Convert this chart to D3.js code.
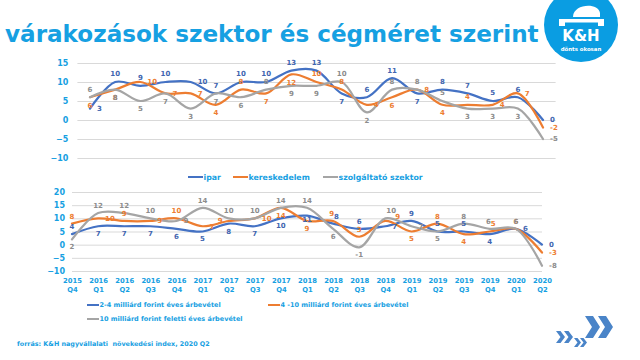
<!DOCTYPE html>
<html><head><meta charset="utf-8">
<script src="https://cdn.jsdelivr.net/npm/d3@7"></script>
<style>
body{margin:0;background:#fff;}
svg{display:block;}
text{font-family:"DejaVu Sans",Verdana,sans-serif;font-weight:bold;}
</style></head>
<body>
<svg id="c" width="640" height="360"></svg>
<script>
const categories = ["2015 Q4","2016 Q1","2016 Q2","2016 Q3","2016 Q4","2017 Q1","2017 Q2","2017 Q3","2017 Q4","2018 Q1","2018 Q2","2018 Q3","2018 Q4","2019 Q1","2019 Q2","2019 Q3","2019 Q4","2020 Q1","2020 Q2"];

// chart 1: by sector
const sectorNames = ["ipar","kereskedelem","szolgáltató szektor"];
const ipar = [3,10,9,10,10,7,10,10,13,13,7,6,11,7,8,7,5,6,0];
const kereskedelem = [6,8,10,7,7,4,8,7,12,10,8,4,6,8,4,4,4,7,-2];
const szolgaltato = [6,8,5,7,3,7,6,8,9,9,10,2,8,8,5,3,3,3,-5];
const yTicks1 = [-10,-5,0,5,10,15];

// chart 2: by company size
const sizeNames = ["2-4 milliárd forint éves árbevétel","4 -10 milliárd forint éves árbevétel","10 milliárd forint feletti éves árbevétel"];
const size2to4 = [4,7,7,7,6,5,8,7,10,11,8,6,7,9,5,5,4,6,0];
const size4to10 = [8,10,9,9,10,7,9,10,14,9,9,3,9,5,8,4,5,6,-3];
const size10plus = [2,12,12,10,9,14,10,10,14,14,6,-1,10,7,5,8,6,6,-8];
const yTicks2 = [-10,-5,0,5,10,15,20];

// label placement (a=above, b=below, c=slightly below, r=right, l=left, p=above-right, q=above-left, s=far right)
const place1 = ["raaaraaaaabaabaaaar","bbrrrbabbaarbrbarrr","abbbbbbabbabaaabbbr"];
const place2 = ["abbbbbbbbcparaaabrr","ararar" + "lrbbqasbabpar","baaaraaaaabbprbaqar"];

const colors = ["#4472C4","#ED7D31","#A5A5A5"];
const labelColors = ["#4165b0","#ED7D31","#8c8c8c"];
const textBlue = "#16a0e2";

const svg = d3.select("#c");

// Title (sized to span up to the logo)
const title = svg.append("text").attr("x",5).attr("y",42).attr("font-size",20).attr("fill",textBlue)
  .text("várakozások szektor és cégméret szerint");
const tw = title.node().getComputedTextLength();
title.attr("font-size", 20*534/tw);

// Logo
const logo = svg.append("g");
logo.append("circle").attr("cx",581).attr("cy",25).attr("r",37).attr("fill","#0a9de2");
logo.append("path").attr("d","M573,17 C573,4 598,2 600,13 L600,17 Z").attr("fill","#fff");
logo.append("path").attr("d","M559,19 L604,19 L604,26 L598,26 L598,22.5 L565,22.5 L565,26 L559,26 Z").attr("fill","#fff");
logo.append("text").attr("x",581).attr("y",41).attr("text-anchor","middle").attr("font-size",15).attr("fill","#fff").text("K&H");
logo.append("text").attr("x",581).attr("y",51).attr("text-anchor","middle").attr("font-size",5.4).attr("font-weight","normal").attr("fill","#fff").text("dönts okosan");

function drawChart(cfg){
  const g = svg.append("g");
  const x = d3.scalePoint().domain(categories).range(cfg.xr).padding(cfg.pad);
  const y = d3.scaleLinear().domain(cfg.yd).range(cfg.yr);
  const gw = cfg.gx[1]-cfg.gx[0];
  const ax = g.append("g").attr("transform",`translate(${cfg.gx[0]},0)`)
    .call(d3.axisLeft(y).tickValues(cfg.ticks).tickSize(-gw).tickPadding(cfg.tp).tickFormat(d3.format("d")));
  ax.select(".domain").remove();
  ax.selectAll(".tick line").attr("stroke","#d9d9d9").attr("stroke-width",1);
  ax.selectAll(".tick text").attr("fill",textBlue).attr("font-size",cfg.tfs).attr("font-family","DejaVu Sans").attr("font-weight","bold");

  if(cfg.xlabels){
    const xa = g.append("g").attr("transform",`translate(0,${cfg.yr[0]})`)
      .call(d3.axisBottom(x).tickSize(0).tickPadding(7));
    xa.select(".domain").remove();
    xa.selectAll(".tick text").each(function(d){
      const t = d3.select(this); const parts = d.split(" ");
      t.text(null).attr("fill",textBlue).attr("font-size",6.8).attr("font-family","DejaVu Sans").attr("font-weight","bold");
      t.append("tspan").attr("x",0).attr("dy","0.71em").text(parts[0]);
      t.append("tspan").attr("x",0).attr("dy","1.3em").text(parts[1]);
    });
  }

  const line = d3.line().x((d,i)=>x(categories[i])).y(d=>y(d)).curve(d3.curveCatmullRom.alpha(0.5));
  cfg.series.forEach((s,k)=>{
    g.append("path").datum(s).attr("d",line).attr("fill","none").attr("stroke",colors[k]).attr("stroke-width",2.2).attr("stroke-linecap","round");
  });
  const dxs = {a:0,b:0,c:0,r:7,l:-6,p:1,q:1,s:10};
  const dys = {a:-1,b:1,c:0.55,r:0,l:0,p:-1,q:-1,s:-0.6};
  const anc = {a:"middle",b:"middle",c:"middle",r:"start",l:"end",p:"start",q:"end",s:"start"};
  cfg.series.forEach((s,k)=>{
    g.selectAll(null).data(s).join("text")
      .attr("font-size",7).attr("fill",labelColors[k])
      .attr("x",(d,i)=>x(categories[i])+dxs[cfg.place[k][i]])
      .attr("y",(d,i)=>y(d)+dys[cfg.place[k][i]]*cfg.off)
      .attr("dy","0.35em")
      .attr("text-anchor",(d,i)=>anc[cfg.place[k][i]])
      .text(d=>d);
  });

  // legend
  cfg.legend.forEach((L,k)=>{
    g.append("line").attr("x1",L[0]).attr("x2",L[0]+cfg.lw).attr("y1",L[1]).attr("y2",L[1]).attr("stroke",colors[k]).attr("stroke-width",2);
    g.append("text").attr("x",L[0]+cfg.lw+0.5).attr("y",L[1]).attr("dy","0.35em").attr("font-size",cfg.lfs).attr("fill",textBlue).text(cfg.names[k]);
  });
}

drawChart({xr:[77.4,555.6],pad:0.5,gx:[77.4,555.6],yd:[-10,15],yr:[158,63],ticks:yTicks1,tp:9,tfs:8,
  series:[ipar,kereskedelem,szolgaltato],place:place1,off:8,xlabels:false,
  names:sectorNames,legend:[[188,177],[233,177],[323,177]],lw:15,lfs:7.8});

drawChart({xr:[72,542],pad:0,gx:[72,542],yd:[-10,20],yr:[271,192],ticks:yTicks2,tp:7,tfs:8,
  series:[size2to4,size4to10,size10plus],place:place2,off:7.5,xlabels:true,
  names:sizeNames,legend:[[87,305],[268,305],[87,319]],lw:12,lfs:6.5});

// footer
svg.append("text").attr("x",17).attr("y",346).attr("font-size",6.4).attr("fill",textBlue)
  .style("white-space","pre")
  .text("forrás: K&H nagyvállalati  növekedési index, 2020 Q2");

// arrows
const arrowColor = "#4a84c8";
function chevron(x0,y0,w,h,t){
  return `M${x0},${y0} L${x0+t},${y0} L${x0+w},${y0+h/2} L${x0+t},${y0+h} L${x0},${y0+h} L${x0+w-t},${y0+h/2} Z`;
}
function dbl(x0,y0,w,h,t,gap){
  svg.append("path").attr("d",chevron(x0,y0,w,h,t)).attr("fill",arrowColor);
  svg.append("path").attr("d",chevron(x0+gap,y0,w,h,t)).attr("fill",arrowColor);
}
dbl(556,331,9,12,4.5,8);
dbl(574,338,7,9,3.5,6);
dbl(585,316,15,22,8,13);
</script>
</body></html>
